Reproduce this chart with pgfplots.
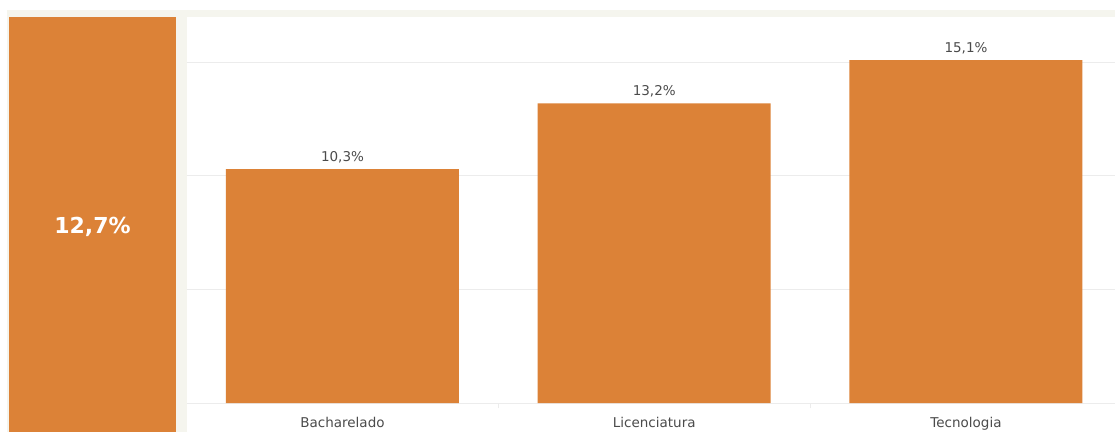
\documentclass[border=0pt]{standalone}
\usepackage{pgfplots}
\pgfplotsset{compat=1.18}
\usepackage{fontspec}
\setmainfont{DejaVu Sans}
\definecolor{barorange}{RGB}{220,130,55}
\definecolor{bgbeige}{RGB}{245,245,238}
\definecolor{gridgray}{RGB}{236,236,236}
\definecolor{txtgray}{RGB}{75,75,75}
\begin{document}
\begin{tikzpicture}
\path[use as bounding box] (0pt,0pt) rectangle (1115pt,432pt);
\fill[white] (0pt,0pt) rectangle (1115pt,432pt);
\fill[bgbeige] (7pt,0pt) rectangle (1115pt,422pt);
\fill[white] (187pt,0pt) rectangle (1115pt,415pt);
% left KPI panel
\begin{axis}[
  at={(9pt,0pt)}, anchor=south west,
  scale only axis, width=167pt, height=415pt,
  xmin=0, xmax=1, ymin=0, ymax=12.7,
  hide axis, clip=false,
]
\addplot[fill=barorange, draw=none] coordinates {(0,12.7) (1,12.7)} \closedcycle;
\node[white, font=\fontsize{22}{26}\selectfont\bfseries] at (rel axis cs:0.5,0.494) {12,7\%};
\end{axis}
% right bar chart
\begin{axis}[
  at={(186.6pt,29pt)}, anchor=south west,
  scale only axis, width=928.4pt, height=386pt,
  xmin=-0.5, xmax=2.478, ymin=0, ymax=17,
  ybar, bar width=233pt,
  axis line style={draw=none},
  xtick pos=lower, ytick pos=left,
  ytick={0,5,10,15}, yticklabels={},
  ymajorgrids, grid style={gridgray, line width=1pt},
  major tick length=0pt,
  xtick={0,1,2},
  xticklabels={Bacharelado,Licenciatura,Tecnologia},
  minor xtick={0.5,1.5},
  minor tick length=5pt,
  minor tick style={gridgray, line width=1pt},
  xticklabel style={font=\fontsize{13.5}{16}\selectfont, text=txtgray, yshift=-11pt},
  nodes near coords={\pgfmathprintnumber[fixed,fixed zerofill,precision=1,use comma,assume math mode=true]{\pgfplotspointmeta}\%},
  every node near coord/.append style={font=\fontsize{13.5}{16}\selectfont, text=txtgray, yshift=2.5pt},
  clip=false,
]
\addplot[fill=barorange, draw=none] coordinates {(0,10.3) (1,13.2) (2,15.1)};
\end{axis}
\end{tikzpicture}
\end{document}
